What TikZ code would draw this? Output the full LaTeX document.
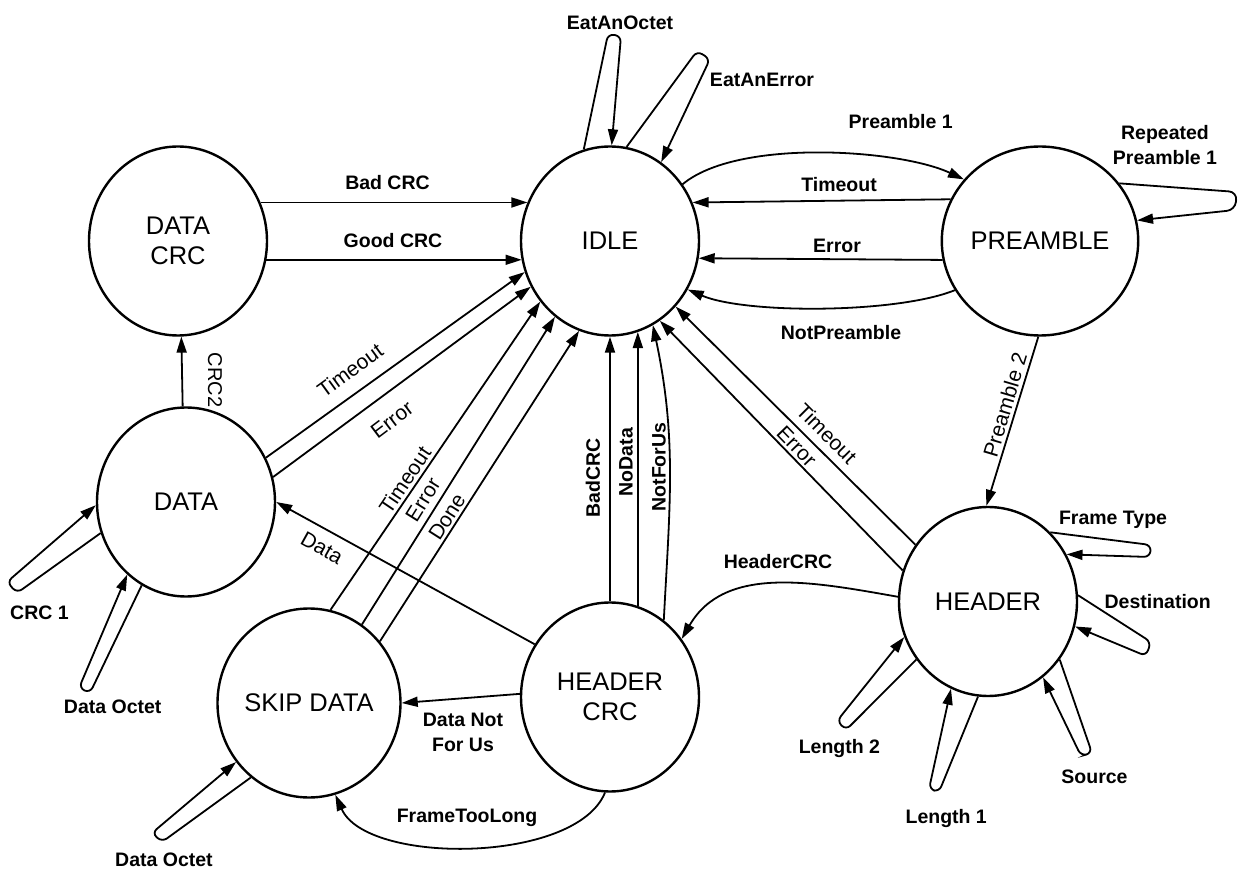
\documentclass[tikz,border=0pt]{standalone}
\usepackage{fontspec}
\setmainfont{Liberation Sans}
\usetikzlibrary{shapes.geometric,arrows.meta}
\begin{document}
\begin{tikzpicture}[x=1pt,y=1pt,
 st/.style={ellipse, draw, line width=2.4pt, minimum width=178pt, minimum height=189pt, inner sep=0pt, align=center, font=\fontsize{25.5}{30}\selectfont},
 tr/.style={line width=1.8pt, -{Triangle[length=16pt,width=10pt]}},
 lp/.style={tr, rounded corners=6pt},
 lb/.style={font=\bfseries\fontsize{19.5}{25}\selectfont, inner sep=0pt, align=center},
 rl/.style={font=\fontsize{21}{25}\selectfont, inner sep=0pt},
 rb/.style={font=\bfseries\fontsize{19.5}{25}\selectfont, inner sep=0pt}]
\fill[white] (0,0) rectangle (1239,871);
\useasboundingbox (0,0) rectangle (1239,871);

% states
\node[st] (dcrc) at (178,630) {DATA\\CRC};
\node[st] (idle) at (610,630) {IDLE};
\node[st] (pre)  at (1040,630) {PREAMBLE};
\node[st] (data) at (186,369) {DATA};
\node[st] (skip) at (309,168) {SKIP DATA};
\node[st] (hcrc) at (610,174) {HEADER\\CRC};
\node[st] (hdr)  at (988,269.5) {HEADER};

% loop tips
\coordinate (rp1) at (1237,679); \coordinate (rp2) at (1235,661);
\coordinate (eo1) at (608,837);  \coordinate (eo2) at (621,835);
\coordinate (ee1) at (697,820);  \coordinate (ee2) at (710,812);
\coordinate (c11) at (17,278);   \coordinate (c12) at (7,289);
\coordinate (do1) at (90,178);   \coordinate (do2) at (79,183);
\coordinate (so1) at (162,29);   \coordinate (so2) at (152,38);
\coordinate (ft1) at (1151,326); \coordinate (ft2) at (1150,314);
\coordinate (de1) at (1151,229); \coordinate (de2) at (1146,215);
\coordinate (sr1) at (1092,118); \coordinate (sr2) at (1081,115);
\coordinate (la1) at (939,79);   \coordinate (la2) at (929,82);
\coordinate (lb1) at (846,141);  \coordinate (lb2) at (837,150);

% DATA CRC -> IDLE
\draw[tr] (dcrc.25) -- (idle.155);
\node[lb] (lbad) at (387.5,688) {Bad CRC};
\draw[tr] (dcrc.-12) -- (idle.192);
\node[lb] (lgood) at (393,630) {Good CRC};

% DATA -> DATA CRC
\draw[tr] (data.92) -- (dcrc.-88);
\node[rl, font=\fontsize{20}{24}\selectfont, rotate=-90] (lcrc2) at (215,491) {CRC2};

% DATA -> IDLE
\draw[tr] (data.29) -- (idle.200);
\node[rl, rotate=36] (ldto) at (350,501) {Timeout};
\draw[tr] (data.16) -- (idle.210);
\node[rl, rotate=37] (lder) at (392,451) {Error};

% SKIP DATA -> IDLE
\draw[tr] (skip.77) -- (idle.221);
\draw[tr] (skip.56) -- (idle.234.5);
\draw[tr] (skip.41) -- (idle.251);
\node[rl, rotate=56] (lsto) at (405,391) {Timeout};
\node[rl, rotate=58] (lser) at (423,371) {Error};
\node[rl, rotate=57.5] (lsdo) at (447,354) {Done};

% HEADER CRC -> DATA
\draw[tr] (hcrc.145) -- (data.0);
\node[rl, rotate=-29] (ldata) at (322,323) {Data};

% HEADER CRC -> SKIP DATA
\draw[tr] (hcrc.178) -- (skip.0);
\node[lb] (ldnfu) at (463,139) {Data Not\\For Us};
\draw[tr] (hcrc.-93) to[out=-112, in=-66, looseness=0.73] (skip.-74);
\node[lb] (lftl) at (467,53) {FrameTooLong};

% HEADER CRC -> IDLE
\draw[tr] (hcrc.90) -- (idle.-90);
\node[rb, rotate=90] (lbc) at (593,393) {BadCRC};
\draw[tr] (hcrc.73) -- (idle.-73);
\node[rb, rotate=90] (lnd) at (626,409) {NoData};
\draw[tr] (hcrc.55) to[out=87, in=-78] (idle.-63);
\node[rb, rotate=90] (lnfu) at (659,404) {NotForUs};

% HEADER -> IDLE
\draw[tr] (hdr.142) -- (idle.-45);
\node[rl, rotate=-45] (lhto) at (826.7,437.7) {Timeout};
\draw[tr] (hdr.160) -- (idle.-58.5);
\node[rl, rotate=-46] (lher) at (796.7,424.3) {Error};

% IDLE <-> PREAMBLE
\draw[tr] (idle.38) to[out=40, in=155, looseness=0.65] (pre.141);
\node[lb] (lp1) at (900.7,749) {Preamble 1};
\draw[tr] (pre.155) -- (idle.25);
\node[lb] (lpto) at (839,686) {Timeout};
\draw[tr] (pre.191) -- (idle.-11);
\node[lb] (lper) at (837,625) {Error};
\draw[tr] (pre.210) to[out=202, in=-23, looseness=0.6] (idle.-32);
\node[lb] (lnp) at (841,538) {NotPreamble};

% PREAMBLE -> HEADER
\draw[tr] (pre.-91) -- (hdr.91);
\node[rl, rotate=73.5] (lp2) at (1005,466) {Preamble 2};

% PREAMBLE self loop
\draw[lp, rounded corners=8pt] (pre.36) -- (rp1) -- (rp2) -- (pre.12);
\node[lb] (lrp) at (1165,726) {Repeated\\Preamble 1};

% IDLE self loops
\draw[lp] (idle.106) -- (eo1) -- (eo2) -- (idle.89);
\node[lb] (leo) at (620,848) {EatAnOctet};
\draw[lp] (idle.80) -- (ee1) -- (ee2) -- (idle.57);
\node[lb] (lee) at (762,791) {EatAnError};

% DATA self loops
\draw[lp] (data.200) -- (c11) -- (c12) -- (data.182);
\node[lb] (lc1) at (39.5,258) {CRC 1};
\draw[lp] (data.242) -- (do1) -- (do2) -- (data.231);
\node[lb] (ldo1) at (112.7,164) {Data Octet};

% SKIP DATA self loop
\draw[lp] (skip.232) -- (so1) -- (so2) -- (skip.219);
\node[lb] (ldo2) at (164,11) {Data Octet};

% HEADER -> HEADER CRC
\draw[tr] (hdr.177) to[out=170, in=60] (hcrc.39);
\node[lb] (lhc) at (778,309) {HeaderCRC};

% HEADER self loops
\draw[lp] (hdr.48) -- (ft1) -- (ft2) -- (hdr.31);
\node[lb] (lft) at (1113,351) {Frame Type};
\draw[lp] (hdr.4) -- (de1) -- (de2) -- (hdr.-16);
\node[lb] (lde) at (1157.7,269) {Destination};
\draw[lp] (hdr.-39) -- (sr1) -- (sr2) -- (hdr.-54);
\node[lb] (lsr) at (1094.5,94) {Source};
\draw[lp] (hdr.-96) -- (la1) -- (la2) -- (hdr.-113);
\node[lb] (ll1) at (946.2,53) {Length 1};
\draw[lp] (hdr.219) -- (lb1) -- (lb2) -- (hdr.203);
\node[lb] (ll2) at (839.4,123) {Length 2};
\end{tikzpicture}
\end{document}
